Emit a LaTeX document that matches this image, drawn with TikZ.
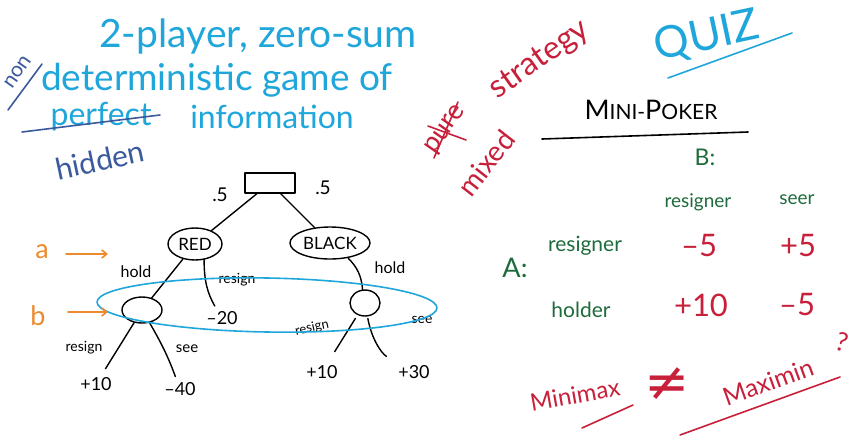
\documentclass[tikz,border=0pt]{standalone}
\usepackage{fontspec}
\setmainfont{Lato}
\newfontfamily\symfont{DejaVu Sans}
\usetikzlibrary{arrows.meta,shapes.geometric}
\definecolor{cy}{HTML}{1FA6DB}
\definecolor{nb}{HTML}{3B5A9E}
\definecolor{rd}{HTML}{C8203A}
\definecolor{gr}{HTML}{1E6B3C}
\definecolor{og}{HTML}{EE8A2E}
\begin{document}
\begin{tikzpicture}[x=1pt,y=-1pt,line cap=round,line join=round,
  fs/.style={font=\fontsize{#1}{#1}\selectfont},
  lbl/.style={inner sep=0pt},
  edge/.style={draw=black,line width=1.4pt},
  oval/.style={ellipse,draw=black,line width=1.4pt,inner sep=0pt},
  stroke/.style={line width=1.6pt},
  arr/.style={og,line width=1.6pt,-{Straight Barb[length=5pt,width=8pt]}}]
\useasboundingbox[fill=white] (0,0) rectangle (859,445);

% top-left text
\node[lbl,fs=39,cy] (t1) at (258,36) {2-player, zero-sum};
\node[lbl,fs=37,cy] (t2) at (217,80) {deterministic game of};
\node[lbl,fs=21,nb,rotate=55] (non) at (18,72) {non};
\draw[nb,stroke] (8,110) -- (42,64);
\node[lbl,fs=32,cy] (perf) at (101,117) {perfect};
\draw[nb,stroke] (22,132) -- (160,115);
\node[lbl,fs=32,cy] (info) at (272,117) {information};
\node[lbl,fs=30,nb,rotate=12] (hid) at (100,160) {hidden};

% tree
\node[draw=black,line width=1.4pt,minimum width=50pt,minimum height=20pt] (root) at (270,183) {};
\node[lbl,fs=19] (p1) at (220,195) {.5};
\node[lbl,fs=19] (p2) at (323,188) {.5};
\node[oval,minimum width=54pt,minimum height=32pt,fs=17] (red) at (195,244) {RED};
\node[oval,minimum width=80pt,minimum height=32pt,fs=17] (black) at (330,243) {BLACK};
\node[oval,minimum width=40pt,minimum height=26pt] (lc) at (142,310) {};
\node[oval,minimum width=30pt,minimum height=26pt] (rc) at (365,303) {};

\node[lbl,fs=18] (l1) at (96,384) {+10};
\node[lbl,fs=18] (l2) at (180,389) {–40};
\node[lbl,fs=18] (l3) at (222,318) {–20};
\node[lbl,fs=18] (l4) at (322,372) {+10};
\node[lbl,fs=18] (l5) at (414,372) {+30};

\node[lbl,fs=16] (h1) at (136,272) {hold};
\node[lbl,fs=14] (r1) at (237,280) {resign};
\node[lbl,fs=16] (h2) at (390,268) {hold};
\node[lbl,fs=13,rotate=12] (r2) at (312,328) {resign};
\node[lbl,fs=14] (s2) at (422,320) {see};
\node[lbl,fs=14] (r3) at (84,348) {resign};
\node[lbl,fs=15] (s1) at (187,349) {see};

\draw[edge] (root) -- (red);
\draw[edge] (root) -- (black);
\draw[edge] (red) -- (lc);
\draw[edge,shorten >=6pt] (red.-60) to[bend right=15] (l3);
\draw[edge] (black) to[bend left=20] (rc);
\draw[edge,shorten >=10pt] (lc) -- (l1);
\draw[edge,shorten >=6pt] (lc) to[bend left=5] (l2);
\draw[edge,shorten >=16pt,shorten <=4pt] (rc) -- (l4);
\draw[edge,shorten >=18pt,shorten <=2pt] (rc) to[bend right=25] (l5);

% information set
\draw[cy,line width=1.6pt,rotate around={-1:(267,305)}] (267,305) ellipse [x radius=170, y radius=27];

% a / b arrows
\node[lbl,fs=27,og] (a) at (42,252) {a};
\coordinate (aend) at (108,254);
\draw[arr] (66,254) -- (aend);
\node[lbl,fs=27,og] (b) at (38,316) {b};
\coordinate (bend) at (108,312);
\draw[arr] (68,312) -- (bend);

% right: strategy
\node[lbl,fs=32,rd,rotate=35] (strat) at (540,60) {strategy};
\node[lbl,fs=27,rd,rotate=55] (pure) at (446,130) {pure};
\draw[rd,stroke] (428,126) -- (466,140);
\draw[rd,stroke] (434,158) -- (458,102);
\node[lbl,fs=28,rd,rotate=52] (mixed) at (486,163) {mixed};

\node[lbl,fs=44,cy,rotate=12] (quiz) at (707,37) {QUIZ};
\draw[cy,stroke] (668,78) -- (792,33);

\node[lbl] (mp) at (651,110) {{\fontsize{27}{27}\selectfont M}{\fontsize{21}{21}\selectfont INI-}{\fontsize{27}{27}\selectfont P}{\fontsize{21}{21}\selectfont OKER}};
\draw[black,stroke] (542,139) -- (748,132);

\node[lbl,fs=23,gr] (B) at (705,157) {B:};
\node[lbl,fs=19,gr] (hc1) at (698,202) {resigner};
\node[lbl,fs=19,gr] (hc2) at (797,200) {seer};
\node[lbl,fs=27,gr] (A) at (515,268) {A:};
\node[lbl,fs=21,gr] (hr1) at (585,246) {resigner};
\node[lbl,fs=21,gr] (hr2) at (581,310) {holder};

\node[lbl,fs=31,rd] (v11) at (699,246) {–5};
\node[lbl,fs=31,rd] (v12) at (798,246) {+5};
\node[lbl,fs=31,rd] (v21) at (701,305) {+10};
\node[lbl,fs=31,rd] (v22) at (797,305) {–5};

\node[lbl,fs=24,rd,rotate=10] (mm) at (575,395) {Minimax};
\draw[rd,stroke] (582,428) -- (633,405);
\node[lbl,fs=54,rd] (neq) at (667,384) {\symfont ≠};
\node[lbl,fs=25,rd,rotate=20] (mx) at (768,382) {Maximin};
\node[lbl,fs=26,rd,rotate=-15] (q) at (842,342) {?};
\draw[rd,stroke] (680,435) -- (840,377);
\end{tikzpicture}
\end{document}
